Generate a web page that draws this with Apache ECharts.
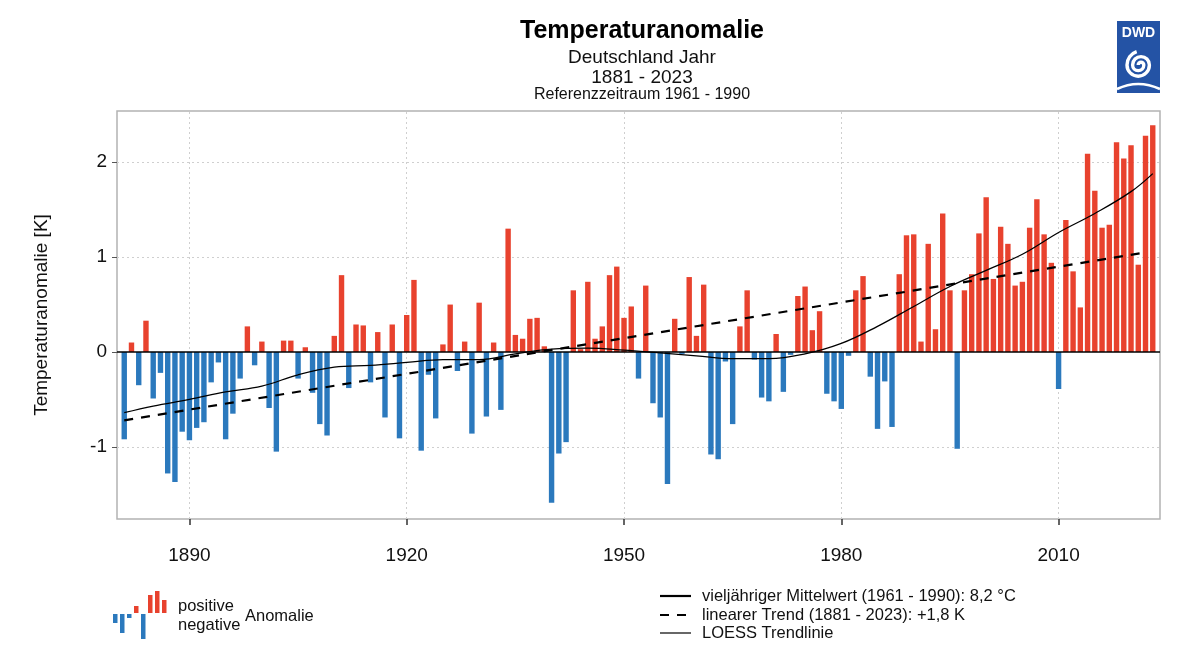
<!DOCTYPE html>
<html><head><meta charset="utf-8">
<script src="https://cdn.jsdelivr.net/npm/echarts@6/dist/echarts.min.js"></script>
<style>html,body{margin:0;padding:0;background:#fff}#c{width:1200px;height:660px}</style>
</head><body><div id="c"></div>
<script>
// ---- data ----
const firstYear = 1881;
const lastYear = 2023;
// annual temperature anomaly (K) vs. 1961-1990, 1881 ... 2023
const anomalies = [
  -0.92, 0.10, -0.35, 0.33, -0.49, -0.22, -1.28, -1.37, -0.84,          // 1881-1889
  -0.93, -0.80, -0.74, -0.32, -0.11, -0.92, -0.65, -0.28, 0.27, -0.14,  // 1890-1899
  0.11, -0.59, -1.05, 0.12, 0.12, -0.28, 0.05, -0.43, -0.76, -0.88,     // 1900-1909
  0.17, 0.81, -0.38, 0.29, 0.28, -0.32, 0.21, -0.69, 0.29, -0.91,       // 1910-1919
  0.39, 0.76, -1.04, -0.24, -0.70, 0.08, 0.50, -0.20, 0.11, -0.86,      // 1920-1929
  0.52, -0.68, 0.10, -0.61, 1.30, 0.18, 0.14, 0.35, 0.36, 0.06,         // 1930-1939
  -1.59, -1.07, -0.95, 0.65, 0.03, 0.74, 0.14, 0.27, 0.81, 0.90,        // 1940-1949
  0.36, 0.48, -0.28, 0.70, -0.54, -0.69, -1.39, 0.35, -0.02, 0.79,      // 1950-1959
  0.17, 0.71, -1.08, -1.13, -0.10, -0.76, 0.27, 0.65, -0.08, -0.48,     // 1960-1969
  -0.52, 0.19, -0.42, -0.03, 0.59, 0.69, 0.23, 0.43, -0.44, -0.52,      // 1970-1979
  -0.60, -0.04, 0.65, 0.80, -0.26, -0.81, -0.31, -0.79, 0.82, 1.23,     // 1980-1989
  1.24, 0.11, 1.14, 0.24, 1.46, 0.65, -1.02, 0.65, 0.82, 1.25,          // 1990-1999
  1.63, 0.77, 1.32, 1.14, 0.70, 0.74, 1.31, 1.61, 1.24, 0.94,           // 2000-2009
  -0.39, 1.39, 0.85, 0.47, 2.09, 1.70, 1.31, 1.34, 2.21, 2.04,          // 2010-2019
  2.18, 0.92, 2.28, 2.39                                                // 2020-2023
];
// LOESS trend line
const loessYears  = [1881, 1885, 1890, 1895, 1900, 1905, 1910, 1915, 1920, 1925, 1930, 1935, 1940, 1945, 1950, 1955, 1960, 1965, 1970, 1975, 1980, 1985, 1990, 1995, 2000, 2005, 2010, 2015, 2020, 2023];
const loessValues = [-0.64, -0.57, -0.50, -0.42, -0.36, -0.24, -0.16, -0.14, -0.11, -0.08, -0.08, -0.02, 0.03, 0.04, 0.02, -0.01, -0.04, -0.07, -0.07, -0.02, 0.09, 0.27, 0.48, 0.69, 0.86, 1.03, 1.26, 1.46, 1.69, 1.88];
// linear trend end points
const trendYears  = [1881, 2022];
const trendValues = [-0.72, 1.05];
// long-term mean (1961-1990) = anomaly 0
const meanAnomaly = 0;
// tick labels
const xTicks = [1890, 1920, 1950, 1980, 2010];
const yTicks = [-1, 0, 1, 2];

// ---- styles ----
const RED = '#e8422e';
const BLUE = '#2b79bd';
const FONT = '"Liberation Sans", Arial, sans-serif';

const years = [];
for (let y = firstYear; y <= lastYear; y++) years.push(y);
const barData = years.map((y, i) => ({
  value: [y, anomalies[i]],
  itemStyle: { color: anomalies[i] >= 0 ? RED : BLUE }
}));
const loessData = loessYears.map((y, i) => [y, loessValues[i]]);
const trendData = trendYears.map((y, i) => [y, trendValues[i]]);

function txt(x, y, text, size, opts) {
  opts = opts || {};
  return {
    type: 'text', x: x, y: y, z: 10, silent: true,
    style: {
      text: text, fill: opts.fill || '#111',
      font: (opts.weight || 'normal') + ' ' + size + 'px ' + FONT,
      align: opts.align || 'left', verticalAlign: 'middle'
    }
  };
}
function arc(cx, cy, r, a0, a1) {
  return { type: 'arc', z: 11, silent: true,
    shape: { cx: cx, cy: cy, r: r, startAngle: a0, endAngle: a1, clockwise: true },
    style: { fill: 'none', stroke: '#fff', lineWidth: 3.4 } };
}
function rect(x, y, w, h, c) {
  return { type: 'rect', z: 10, silent: true, shape: { x: x, y: y, width: w, height: h }, style: { fill: c } };
}
const PI = Math.PI;

const graphics = [
  txt(642, 31, 'Temperaturanomalie', 25, { align: 'center', weight: 'bold', fill: '#000' }),
  txt(642, 58, 'Deutschland Jahr', 19, { align: 'center' }),
  txt(642, 78, '1881 - 2023', 19, { align: 'center' }),
  txt(642, 95, 'Referenzzeitraum 1961 - 1990', 16, { align: 'center' }),
  // DWD logo
  rect(1117, 21, 43, 72, '#2453a5'),
  txt(1138.5, 33, 'DWD', 14, { align: 'center', weight: 'bold', fill: '#fff' }),
  arc(1141, 65, 2.8, PI, 2 * PI),
  arc(1138.2, 65, 5.6, 0, PI),
  arc(1141, 65, 8.4, PI, 2 * PI),
  arc(1138.2, 65, 11.2, 0, PI),
  arc(1141, 65, 14, PI, 1.4 * PI),
  { type: 'bezierCurve', z: 11, silent: true,
    shape: { x1: 1117, y1: 89, x2: 1160, y2: 89, cpx1: 1138, cpy1: 79 },
    style: { fill: 'none', stroke: '#fff', lineWidth: 2.5 } },
  // left legend icon
  rect(113, 614, 4.5, 9, BLUE),
  rect(120, 614, 4.5, 19, BLUE),
  rect(127, 614, 4.5, 4, BLUE),
  rect(134, 606, 4.5, 7, RED),
  rect(141, 614, 4.5, 25, BLUE),
  rect(148, 595, 4.5, 18, RED),
  rect(155, 591, 4.5, 22, RED),
  rect(162, 600, 4.5, 13, RED),
  txt(178, 606, 'positive', 16.5),
  txt(178, 625, 'negative', 16.5),
  txt(245, 616, 'Anomalie', 16.5),
  // right legend
  { type: 'line', z: 10, silent: true, shape: { x1: 660, y1: 596, x2: 691, y2: 596 }, style: { stroke: '#000', lineWidth: 2.2 } },
  { type: 'line', z: 10, silent: true, shape: { x1: 660, y1: 615, x2: 691, y2: 615 }, style: { stroke: '#000', lineWidth: 2.2, lineDash: [9, 8] } },
  { type: 'line', z: 10, silent: true, shape: { x1: 660, y1: 633, x2: 691, y2: 633 }, style: { stroke: '#000', lineWidth: 1.2 } },
  txt(702, 596, 'vieljähriger Mittelwert (1961 - 1990): 8,2 °C', 16.5),
  txt(702, 615, 'linearer Trend (1881 - 2023): +1,8 K', 16.5),
  txt(702, 633, 'LOESS Trendlinie', 16.5)
];

const chart = echarts.init(document.getElementById('c'), null, { renderer: 'canvas' });
chart.setOption({
  animation: false,
  backgroundColor: '#fff',
  textStyle: { fontFamily: FONT },
  grid: { left: 117, right: 40, top: 111, bottom: 141, show: true, borderColor: '#b3b3b3', borderWidth: 1.5, backgroundColor: 'transparent' },
  xAxis: {
    type: 'value', min: 1880, max: 2024,
    axisLine: { show: false, onZero: false },
    axisTick: { show: true, customValues: xTicks, length: 6, lineStyle: { color: '#333', width: 1.5 } },
    axisLabel: { customValues: xTicks, fontSize: 19, color: '#111', margin: 27, fontFamily: FONT, formatter: v => String(v) },
    splitLine: { show: false }
  },
  yAxis: {
    type: 'value', min: -1.76, max: 2.54,
    name: 'Temperaturanomalie [K]', nameLocation: 'middle', nameGap: 66,
    nameTextStyle: { fontSize: 19, color: '#111', fontFamily: FONT },
    axisLine: { show: false },
    axisTick: { show: true, customValues: yTicks, length: 5, lineStyle: { color: '#555', width: 1 } },
    axisLabel: { customValues: yTicks, fontSize: 19, color: '#111', margin: 10, fontFamily: FONT, formatter: v => String(v) },
    splitLine: { show: false }
  },
  graphic: graphics,
  series: [
    {
      name: 'grid', type: 'line', data: [], z: 1, silent: true,
      markLine: {
        z: 1, silent: true, symbol: ['none', 'none'], label: { show: false },
        lineStyle: { color: '#cfcfcf', type: [2, 3], width: 1 },
        data: xTicks.map(v => ({ xAxis: v })).concat(yTicks.filter(v => v !== meanAnomaly).map(v => ({ yAxis: v })))
      }
    },
    {
      name: 'Anomalie', type: 'bar', data: barData, barWidth: 5.4, z: 2, silent: true
    },
    {
      name: 'linearer Trend', type: 'line', data: trendData, z: 4, symbol: 'none', silent: true,
      lineStyle: { color: '#000', width: 2.2, type: [9, 8] },
      markLine: {
        z: 5, silent: true, symbol: ['none', 'none'], label: { show: false },
        lineStyle: { color: '#000', width: 1.6, type: 'solid' },
        data: [{ yAxis: meanAnomaly }]
      }
    },
    {
      name: 'LOESS', type: 'line', data: loessData, z: 5, symbol: 'none', smooth: 0.4, silent: true,
      lineStyle: { color: '#000', width: 1.3 }
    }
  ]
});
</script>
</body></html>
